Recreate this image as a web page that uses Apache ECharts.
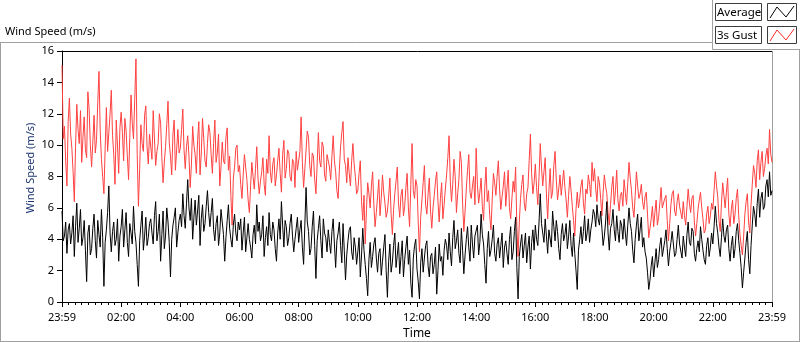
<!DOCTYPE html>
<html>
<head>
<meta charset="utf-8">
<script src="https://cdn.jsdelivr.net/npm/echarts@6/dist/echarts.min.js"></script>
<style>
  html, body { margin: 0; padding: 0; background: #fff; }
  #chart { width: 800px; height: 342px; }
</style>
</head>
<body>
<div id="chart"></div>
<script>
// one sample every 2.5 minutes, from 23:59 to 23:59 next day (24 per row = 1 hour)
const sampleStep = 2.5;
const timeLabels = ['23:59', '02:00', '04:00', '06:00', '08:00', '10:00', '12:00',
  '14:00', '16:00', '18:00', '20:00', '22:00', '23:59'];

const avgSpeed = [
  5.8, 3.9, 4.2, 5.1, 3.1, 4.6, 5.0, 3.7, 4.4, 5.5, 2.9, 4.8, 6.3, 3.8, 4.7, 5.9, 3.6, 4.1, 5.2, 3.3, 1.3, 4.4, 4.9, 3.0,
  3.4, 4.7, 5.6, 3.9, 2.8, 5.2, 4.3, 3.5, 5.9, 4.1, 1.0, 3.8, 4.6, 5.7, 7.4, 4.4, 3.2, 4.5, 5.1, 3.6, 4.0, 5.3, 2.6, 4.2,
  4.8, 5.9, 3.5, 4.6, 5.7, 3.8, 2.9, 5.0, 4.4, 3.7, 6.1, 4.5, 3.8, 2.4, 1.0, 3.9, 4.9, 5.8, 3.3, 4.2, 5.4, 3.6, 4.1, 5.0,
  5.3, 4.4, 3.7, 5.5, 6.4, 3.9, 4.5, 5.6, 2.6, 4.3, 5.8, 3.4, 4.2, 6.0, 5.1, 3.8, 1.6, 4.0, 4.9, 5.4, 6.0, 3.5, 4.4, 5.2,
  5.6, 4.8, 6.9, 5.5, 4.7, 6.3, 7.8, 6.0, 5.2, 6.6, 4.0, 5.4, 6.5, 4.9, 5.8, 6.8, 3.6, 5.3, 6.2, 4.5, 5.0, 6.1, 7.1, 5.7,
  4.8, 5.7, 6.6, 4.6, 3.9, 5.0, 5.5, 3.6, 4.4, 5.9, 6.0, 4.3, 2.6, 4.1, 5.2, 6.2, 4.7, 4.0, 3.5, 4.9, 5.6, 4.4, 3.9, 5.1,
  4.6, 5.3, 3.3, 4.4, 5.4, 3.2, 4.1, 5.0, 4.0, 3.5, 2.8, 4.3, 4.9, 3.7, 6.2, 4.5, 5.1, 3.9, 4.3, 5.5, 2.9, 4.1, 4.8, 3.6,
  5.7, 4.3, 3.9, 5.1, 4.6, 3.4, 2.6, 4.4, 5.3, 4.0, 6.4, 4.9, 3.5, 5.2, 4.8, 3.6, 4.1, 5.0, 5.6, 4.2, 3.2, 4.0, 4.7, 5.4,
  3.8, 4.6, 5.2, 3.5, 2.4, 4.9, 7.3, 5.1, 4.5, 3.0, 3.4, 4.8, 5.8, 3.6, 1.5, 3.9, 4.7, 5.5, 3.9, 2.8, 5.3, 4.4, 4.1, 3.2,
  4.6, 3.8, 3.1, 4.5, 5.3, 3.7, 2.2, 3.9, 4.4, 5.1, 3.6, 2.5, 5.0, 3.3, 1.4, 3.0, 3.9, 4.6, 4.8, 3.2, 2.7, 4.1, 3.5, 2.4,
  3.2, 4.1, 1.6, 3.0, 4.7, 3.3, 2.4, 1.5, 0.4, 2.7, 3.8, 2.2, 2.9, 3.7, 4.1, 2.8, 1.9, 3.1, 3.4, 1.7, 2.6, 3.5, 4.3, 2.0,
  0.3, 2.6, 3.7, 1.9, 2.5, 3.6, 4.4, 2.2, 3.0, 3.8, 1.8, 2.9, 3.9, 1.6, 2.7, 3.5, 4.2, 2.4, 3.3, 1.2, 0.3, 2.8, 3.6, 4.0,
  2.1, 1.3, 0.2, 2.5, 3.4, 1.9, 2.8, 3.6, 3.9, 2.3, 1.6, 2.9, 3.1, 1.8, 2.4, 3.5, 0.5, 2.0, 3.7, 2.6, 2.9, 1.7, 3.3, 4.0,
  3.6, 2.7, 4.4, 3.2, 2.3, 4.1, 5.2, 3.4, 3.9, 4.6, 3.1, 2.5, 4.7, 3.3, 1.8, 3.0, 4.0, 4.8, 3.5, 2.6, 4.9, 3.7, 2.8, 4.2,
  4.2, 4.9, 3.0, 3.8, 5.6, 4.3, 3.7, 2.4, 1.2, 3.4, 4.5, 2.9, 3.3, 4.0, 4.9, 3.1, 2.6, 3.7, 4.1, 2.8, 3.6, 4.4, 2.2, 3.5,
  3.9, 3.1, 2.4, 4.0, 4.8, 2.7, 3.2, 4.5, 5.4, 2.2, 0.2, 2.9, 3.7, 4.3, 2.8, 3.6, 4.4, 2.5, 3.5, 4.2, 2.1, 3.8, 4.6, 3.3,
  4.9, 4.0, 3.6, 5.1, 6.9, 5.0, 4.4, 3.8, 5.3, 4.2, 3.1, 4.6, 4.7, 3.5, 5.8, 4.8, 3.9, 5.2, 4.5, 3.4, 2.7, 4.3, 5.0, 3.9,
  4.3, 5.0, 3.4, 4.2, 5.2, 3.6, 2.9, 4.4, 3.1, 2.0, 0.8, 3.3, 4.0, 4.8, 3.7, 4.5, 5.5, 3.9, 4.4, 5.3, 3.8, 4.6, 5.1, 5.9,
  5.6, 4.8, 6.2, 5.3, 4.9, 5.8, 4.7, 3.6, 4.2, 5.1, 6.4, 4.4, 3.3, 4.7, 5.0, 5.9, 4.6, 3.9, 5.5, 4.5, 3.8, 5.2, 4.9, 4.0,
  5.3, 4.4, 3.6, 4.9, 6.0, 5.0, 4.5, 3.3, 2.5, 4.0, 4.9, 5.6, 3.9, 4.6, 5.4, 3.5, 4.1, 3.2, 2.8, 1.9, 0.8, 1.4, 2.3, 2.9,
  1.6, 2.5, 3.4, 2.2, 2.7, 3.6, 4.1, 2.9, 3.0, 3.9, 4.6, 3.4, 2.3, 3.2, 3.8, 4.5, 4.4, 2.9, 3.1, 4.0, 4.9, 3.7, 3.6, 2.8,
  4.2, 3.5, 2.9, 4.3, 5.1, 3.8, 3.6, 4.7, 4.5, 3.1, 2.6, 3.4, 3.9, 3.2, 4.8, 4.0, 3.3, 2.7, 2.4, 3.6, 4.1, 2.9, 3.5, 4.4,
  3.7, 4.8, 6.1, 5.0, 4.4, 3.5, 2.9, 4.1, 5.3, 4.2, 3.8, 4.6, 4.9, 3.4, 2.6, 3.6, 4.2, 2.8, 3.4, 4.5, 5.0, 3.9, 3.1, 2.2,
  0.9, 1.9, 2.8, 3.8, 4.5, 2.7, 1.8, 3.6, 4.9, 6.1, 5.6, 4.8, 6.3, 7.2, 5.4, 6.6, 7.0, 5.9, 6.1, 7.4, 7.8, 6.7, 8.3, 6.8, 7.1
];

const gustSpeed = [
  15.1, 10.4, 11.2, 9.0, 7.4, 11.5, 13.0, 10.7, 9.8, 8.3, 6.4, 9.9, 12.6, 11.0, 10.1, 12.2, 8.9, 10.5, 11.8, 9.7, 9.2, 13.4, 12.3, 10.0,
  8.6, 10.2, 11.9, 9.5, 10.3, 12.7, 14.7, 10.9, 9.1, 8.0, 6.9, 9.8, 12.4, 9.6, 10.8, 12.0, 13.5, 10.6, 9.4, 7.5, 11.6, 10.0, 8.2, 11.1,
  12.1, 10.8, 9.0, 11.7, 10.9, 9.3, 7.8, 10.5, 13.2, 11.4, 10.4, 12.9, 15.5, 9.4, 6.1, 8.5, 11.3, 10.1, 9.6, 11.9, 12.5, 9.9, 8.8, 10.7,
  10.6, 9.1, 12.2, 10.4, 8.7, 9.6, 10.1, 12.0, 11.4, 9.2, 7.6, 8.9, 9.9, 11.3, 12.8, 10.2, 9.3, 8.1, 10.7, 11.6, 8.4, 9.7, 11.0, 9.5,
  9.8, 11.0, 12.3, 9.7, 8.5, 9.9, 10.6, 9.3, 7.3, 8.8, 11.2, 10.0, 9.4, 8.2, 10.3, 11.5, 8.1, 9.5, 11.7, 10.4, 9.0, 8.6, 10.1, 11.3,
  10.8, 9.4, 8.2, 10.1, 11.6, 8.9, 9.5, 10.7, 7.4, 8.6, 10.2, 9.0, 8.8, 10.5, 11.1, 8.4, 9.3, 6.8, 4.9, 7.9, 8.6, 9.8, 10.0, 8.3,
  8.7, 7.5, 6.6, 8.1, 9.4, 8.6, 7.8, 6.5, 5.7, 7.4, 8.9, 8.0, 7.2, 8.5, 9.9, 7.9, 6.9, 7.7, 8.3, 9.2, 7.5, 6.8, 9.1, 8.2,
  10.6, 8.3, 7.6, 8.8, 9.2, 7.4, 8.1, 9.0, 9.8, 8.2, 7.0, 9.4, 10.3, 7.9, 8.5, 9.7, 9.5, 8.0, 7.7, 9.1, 8.9, 7.3, 9.6, 8.4,
  8.4, 9.6, 11.8, 8.9, 7.3, 8.5, 9.7, 10.9, 10.5, 8.7, 8.0, 9.5, 9.3, 7.8, 6.9, 8.8, 10.8, 9.0, 8.6, 10.2, 9.9, 8.1, 7.7, 9.4,
  9.5, 8.6, 7.8, 9.3, 10.6, 9.0, 8.3, 7.1, 6.6, 8.4, 9.9, 10.8, 11.5, 9.1, 8.7, 7.6, 9.2, 8.2, 7.4, 9.0, 10.1, 8.8, 8.0, 6.9,
  7.1, 8.2, 9.0, 6.4, 5.2, 6.8, 3.7, 5.9, 7.6, 6.9, 6.0, 7.4, 8.3, 6.2, 4.8, 5.7, 6.7, 7.8, 5.5, 6.6, 8.1, 7.0, 6.3, 5.4,
  5.8, 6.7, 7.9, 5.6, 4.3, 5.9, 6.9, 7.7, 8.6, 6.3, 5.4, 6.8, 7.2, 5.5, 6.1, 7.3, 8.2, 6.0, 4.8, 7.5, 10.1, 7.1, 6.6, 7.8,
  7.4, 5.1, 3.2, 5.4, 6.5, 7.6, 8.7, 6.2, 5.6, 6.9, 7.9, 5.8, 4.7, 6.0, 6.8, 7.7, 8.3, 6.4, 5.1, 6.6, 7.6, 5.3, 6.2, 7.2,
  8.1, 9.2, 10.6, 7.7, 6.4, 7.5, 9.1, 8.0, 5.7, 6.9, 7.8, 9.6, 8.9, 6.3, 4.5, 5.8, 7.2, 8.4, 9.4, 7.0, 6.6, 7.4, 8.0, 6.2,
  9.8, 7.5, 6.3, 7.0, 7.9, 6.1, 5.2, 7.3, 8.6, 6.4, 7.1, 5.5, 4.6, 6.5, 8.2, 7.6, 6.8, 8.0, 9.0, 7.2, 5.9, 6.7, 7.4, 8.3,
  6.1, 7.2, 8.4, 6.0, 5.3, 6.6, 7.7, 7.0, 8.6, 4.8, 2.9, 5.1, 6.6, 7.5, 8.1, 6.3, 5.8, 6.9, 7.3, 9.0, 10.7, 8.2, 6.9, 7.6,
  8.8, 7.3, 6.2, 8.0, 10.1, 8.6, 7.4, 8.3, 9.2, 6.9, 5.3, 7.1, 8.5, 6.6, 7.0, 8.7, 9.6, 7.8, 6.5, 7.2, 8.1, 6.8, 7.6, 8.4,
  7.3, 6.5, 5.4, 6.8, 8.0, 7.1, 6.1, 5.2, 4.2, 5.9, 7.0, 6.0, 6.6, 7.4, 7.8, 6.3, 5.6, 7.2, 6.9, 8.1, 7.5, 6.7, 8.9, 7.7,
  8.5, 7.2, 6.4, 8.0, 7.6, 6.6, 5.5, 7.0, 8.1, 7.4, 6.9, 5.7, 4.9, 6.2, 7.3, 8.0, 6.2, 7.1, 8.4, 6.5, 5.8, 6.8, 7.0, 6.1,
  7.8, 7.0, 6.2, 7.6, 8.9, 7.9, 7.1, 6.0, 5.4, 6.8, 8.3, 7.4, 6.6, 6.9, 7.5, 6.4, 5.9, 6.7, 7.0, 5.6, 4.1, 4.7, 5.3, 6.1,
  4.8, 5.7, 6.5, 4.9, 5.4, 6.3, 7.3, 6.0, 5.9, 6.6, 6.8, 5.2, 3.9, 5.0, 6.2, 6.9, 7.1, 5.8, 5.5, 6.4, 6.9, 6.1, 6.0, 5.3,
  6.4, 5.5, 4.9, 6.1, 7.2, 6.3, 5.7, 6.6, 6.8, 5.1, 4.2, 5.0, 5.9, 6.5, 7.0, 6.0, 5.3, 4.4, 4.6, 5.6, 6.1, 5.0, 5.5, 6.3,
  5.9, 7.1, 8.3, 7.4, 6.7, 5.2, 4.5, 6.3, 7.6, 6.8, 6.0, 7.0, 7.9, 5.6, 4.8, 5.9, 6.5, 5.0, 5.6, 6.6, 7.2, 5.5, 4.3, 3.6,
  3.0, 4.2, 5.6, 6.4, 6.9, 5.1, 4.4, 6.2, 7.5, 8.7, 8.2, 7.3, 9.0, 9.7, 7.8, 8.9, 9.6, 8.0, 8.5, 9.3, 9.8, 8.8, 11.0, 9.4, 8.9
];

const font = '"Noto Sans", "Liberation Sans", sans-serif';
const frameGray = '#a0a0a0';

function toPoints(values) {
  return values.map((v, i) => [i * sampleStep, v]);
}

function legendEntry(y, label, color) {
  return [
    { type: 'rect', shape: { x: 715.5, y: y + 0.5, width: 46, height: 17 },
      style: { fill: '#fff', stroke: '#3c3c3c', lineWidth: 1 } },
    { type: 'text', x: 717, y: y + 9.5,
      style: { text: label, font: '11.5px ' + font, fill: '#000', verticalAlign: 'middle' } },
    { type: 'rect', shape: { x: 767.5, y: y + 0.5, width: 29, height: 17 },
      style: { fill: '#fff', stroke: '#3c3c3c', lineWidth: 1 } },
    { type: 'polyline', shape: { points: [[770, y + 15], [777, y + 4], [786, y + 14], [794, y + 3]] },
      style: { stroke: color, lineWidth: 1, fill: null } }
  ];
}

const chart = echarts.init(document.getElementById('chart'));

chart.setOption({
  animation: false,
  grid: { left: 62, top: 51, width: 710, height: 251, show: false },
  xAxis: {
    type: 'value',
    min: 0,
    max: 1440,
    interval: 120,
    axisLine: { show: true, lineStyle: { color: '#000', width: 1 } },
    axisTick: { show: true, length: 5, lineStyle: { color: '#000' } },
    minorTick: { show: true, splitNumber: 9, length: 3, lineStyle: { color: '#000' } },
    splitLine: { show: false },
    axisLabel: {
      margin: 10, fontSize: 11, fontFamily: font, color: '#000',
      showMinLabel: true, showMaxLabel: true,
      formatter: v => timeLabels[Math.round(v / 120)]
    }
  },
  yAxis: {
    type: 'value',
    min: 0,
    max: 16,
    interval: 2,
    axisLine: { show: true, lineStyle: { color: '#000', width: 1 } },
    axisTick: { show: true, length: 5, lineStyle: { color: '#000' } },
    splitLine: { show: false },
    axisLabel: { margin: 8, fontSize: 11, fontFamily: font, color: '#000' }
  },
  graphic: [
    // outer panel frame
    { type: 'line', shape: { x1: 0, y1: 42.5, x2: 712.5, y2: 42.5 }, style: { stroke: frameGray } },
    { type: 'line', shape: { x1: 0.5, y1: 42.5, x2: 0.5, y2: 342 }, style: { stroke: frameGray } },
    { type: 'line', shape: { x1: 0, y1: 341.5, x2: 800, y2: 341.5 }, style: { stroke: frameGray } },
    { type: 'line', shape: { x1: 799.5, y1: 49.5, x2: 799.5, y2: 342 }, style: { stroke: frameGray } },
    { type: 'line', shape: { x1: 712.5, y1: 0, x2: 712.5, y2: 49.5 }, style: { stroke: frameGray } },
    { type: 'line', shape: { x1: 712.5, y1: 49.5, x2: 800, y2: 49.5 }, style: { stroke: frameGray } },
    // plot frame top and right
    { type: 'line', shape: { x1: 62, y1: 51.5, x2: 772.5, y2: 51.5 }, style: { stroke: '#000' } },
    { type: 'line', shape: { x1: 772.5, y1: 51.5, x2: 772.5, y2: 302 }, style: { stroke: frameGray } },
    // titles
    { type: 'text', x: 5, y: 32,
      style: { text: 'Wind Speed (m/s)', font: '11px ' + font, fill: '#000', verticalAlign: 'middle' } },
    { type: 'text', x: 31, y: 168, rotation: Math.PI / 2,
      style: { text: 'Wind Speed (m/s)', font: '11px ' + font, fill: '#1d3570',
        align: 'center', verticalAlign: 'middle' } },
    { type: 'text', x: 417, y: 334,
      style: { text: 'Time', font: '12px ' + font, fill: '#000', align: 'center', verticalAlign: 'middle' } },
    ...legendEntry(3, 'Average', '#000'),
    ...legendEntry(26, '3s Gust', '#ff2a2a')
  ],
  series: [
    {
      name: '3s Gust',
      type: 'line',
      showSymbol: false,
      symbol: 'none',
      lineStyle: { color: '#ff4040', width: 1 },
      data: toPoints(gustSpeed)
    },
    {
      name: 'Average',
      type: 'line',
      showSymbol: false,
      symbol: 'none',
      lineStyle: { color: '#000', width: 1 },
      data: toPoints(avgSpeed)
    }
  ]
});
</script>
</body>
</html>
